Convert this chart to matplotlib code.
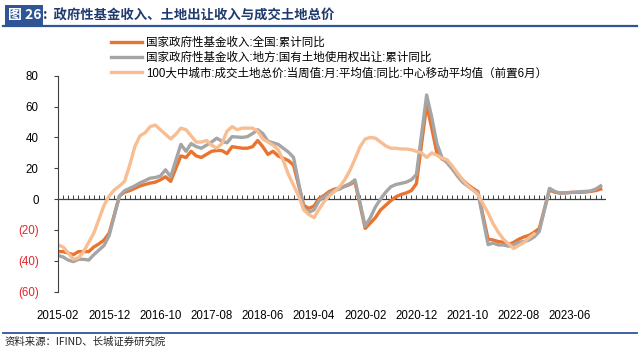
import matplotlib
matplotlib.use("Agg")
import matplotlib.pyplot as plt
import numpy as np
import pandas as pd

months = list(pd.period_range("2015-02", "2023-12", freq="M").strftime("%Y-%m"))
tick_labels = ["2015-02", "2015-12", "2016-10", "2017-08", "2018-06", "2019-04",
               "2020-02", "2020-12", "2021-10", "2022-08", "2023-06"]
y_ticks = [80, 60, 40, 20, 0, -20, -40, -60]

N = None
fund_national = [
    -34, -34, -35, -36, -34, -34, -34, -31, -29, -26.5, -22,
    N, 2, 4.5, 5.5, 7, 8.5, 9.5, 10.4, 11, 12.5, 14.5, 11.5,
    N, 28, 27, 31, 28, 27, 29, 31, 31.5, 31.5, 29.5, 34,
    N, 33, 33, 34, 38, 34, 29, 31, 28, 26.5, 25, 22,
    N, -4, -6, -4.5, 0.5, 2.5, 5, 6.5, 7.2, 8.2, 9.5, 11.3,
    N, -19, -15.5, -12, -7, -4, -1, 1.5, 3, 4, 5.5, 10,
    N, 61, 46, 30, 26, 24.5, 20.5, 16.5, 12.5, 9.5, 7, 5,
    N, -26, -26.5, -27.5, -28, -29.5, -28, -26, -24.5, -23.5, -21.5, -19,
    N, 6, 4.5, 3.9, 4, 4.3, 4.4, 4.5, 4.6, 5, 5.5, 6.5,
]
land_transfer = [
    -36.5, -37.5, -39.5, -40.5, -39, -39, -39.5, -36, -33, -30, -23.5,
    N, 2, 5.5, 7, 8.6, 10.5, 12, 13.6, 14, 15, 19, 14.5,
    N, 35.5, 31, 36, 34, 33, 35, 37, 39.5, 37.5, 36.5, 40.5,
    N, 40, 40.5, 42.5, 45, 42.5, 37.5, 36.5, 35.5, 33, 30.5, 27,
    N, -6, -8.5, -7, -1, 1.5, 4, 5.5, 6.5, 8.5, 10, 12.5,
    N, -17.5, -12, -5, 0, 4.5, 8, 9.5, 10.2, 11, 12.5, 16,
    N, 67.5, 53, 36, 27, 23.5, 19.5, 15, 11, 8.5, 6, 4.5,
    N, -29.5, -28.5, -29.7, -29.7, -30.5, -29.5, -28, -27.5, -26.5, -24.5, -21,
    N, 7, 5, 4, 4, 4.3, 4.5, 4.8, 5, 5.3, 6.5, 8.6,
]
city_land_price = [
    -29.7, -31, -35, -39, -38, -34, -28, -22, -13, -4, 2,
    6, 8.5, 11.5, 22, 34, 41, 43, 47, 48, 45, 42, 39,
    42, 46, 45, 41, 37, 37, 38, 35, 33, 36, 44, 47,
    45, 46, 46, 46, 44, 39, 37, 35, 32, 25, 16, 9,
    2, -7, -10, -12, -6.5, -1.5, 2, 5, 8, 12.5, 18.5, 26,
    34, 39, 40, 39.5, 37, 34.5, 33, 33, 32.5, 32.5, 32, 31,
    30, 27, 30, 28.5, 26.5, 25.5, 21.5, 17, 12.5, 9, 6, 3,
    -3, -9, -16, -21.5, -26, -29, -32, -30, -28, -25, -22.5,
]

labels = [
    "国家政府性基金收入:全国:累计同比",
    "国家政府性基金收入:地方:国有土地使用权出让:累计同比",
    "100大中城市:成交土地总价:当周值:月:平均值:同比:中心移动平均值（前置6月）",
]
colors = ["#E8742F", "#A5A5A5", "#F8BD91"]

FONT = ["Liberation Sans", "Noto Sans CJK SC", "DejaVu Sans"]
plt.rcParams["font.family"] = FONT

fig = plt.figure(figsize=(6.4, 3.52), dpi=100)
W, H = 640, 352
x0, x1 = 58, 58 + 5.12 * 107
ytop, ybot = 75.7, 291.7
ax = fig.add_axes([x0 / W, 1 - ybot / H, (x1 - x0) / W, (ybot - ytop) / H])

handles = []
for series, col, lab in zip([fund_national, land_transfer, city_land_price], colors, labels):
    vals = np.array([np.nan if v is None else v for v in series], dtype=float)
    xs = np.arange(len(vals))
    m = ~np.isnan(vals)
    h, = ax.plot(xs[m], vals[m], color=col, lw=2.4, solid_joinstyle="round", label=lab)
    handles.append(h)

ax.set_xlim(0, 107)
ax.set_ylim(-60, 80)
for s in ["top", "right", "bottom"]:
    ax.spines[s].set_visible(False)
ax.spines["left"].set_color("#404040")
ax.spines["left"].set_linewidth(0.8)

ax.set_yticks(y_ticks)
ax.set_yticklabels([str(v) if v >= 0 else "(%d)" % (-v) for v in y_ticks])
for lab, v in zip(ax.get_yticklabels(), y_ticks):
    lab.set_color("#000000" if v >= 0 else "#E3262B")
ax.tick_params(axis="y", direction="out", length=3, width=0.8, color="#404040",
               labelsize=8.3, pad=11)

pos = [months.index(t) for t in tick_labels]
ax.set_xticks(pos)
ax.set_xticklabels(tick_labels)
ax.tick_params(axis="x", length=0, labelsize=8.3, pad=13)

# zero line with monthly tick marks pointing up
ax.axhline(0, color="#404040", lw=0.9, zorder=1)
sec = ax.secondary_xaxis(60 / 140)
sec.spines["bottom"].set_visible(False)
sec.set_xticks(np.arange(0, 107))
sec.tick_params(axis="x", direction="in", length=3, width=0.7, color="#404040",
                labelbottom=False)

leg = fig.legend(handles=handles, loc="upper left", bbox_to_anchor=(111 / W, 1 - 37 / H),
                 frameon=False, fontsize=8.3, handlelength=2.7, handletextpad=0.35,
                 labelspacing=0.28, borderpad=0, borderaxespad=0)

# title bar
fig.patches.append(matplotlib.patches.Rectangle((5 / W, 1 - 26 / H), 38 / W, 21 / H,
                   transform=fig.transFigure, facecolor="#2F5597", edgecolor="none"))
fig.text(8 / W, 1 - 15.5 / H, "图 26", color="white", fontsize=10, fontweight="bold",
         va="center", ha="left", family=["Noto Sans CJK SC", "DejaVu Sans"])
fig.text(43 / W, 1 - 15.5 / H, ":  政府性基金收入、土地出让收入与成交土地总价", color="#1F3A6E",
         fontsize=9.6, fontweight="bold", va="center", ha="left",
         family=["Noto Sans CJK SC", "DejaVu Sans"])
fig.add_artist(matplotlib.lines.Line2D([3 / W, 637 / W], [1 - 26 / H, 1 - 26 / H],
               transform=fig.transFigure, color="#2F5597", lw=1.6))
fig.add_artist(matplotlib.lines.Line2D([3 / W, 637 / W], [1 - 332.5 / H, 1 - 332.5 / H],
               transform=fig.transFigure, color="#2F5597", lw=1.3))
fig.text(5 / W, 1 - 342 / H, "资料来源：IFIND、长城证券研究院", fontsize=7.5, color="#222222",
         va="center", ha="left", style="italic", family=["Noto Sans CJK SC", "DejaVu Sans"])

fig.savefig("out.png", dpi=100)
